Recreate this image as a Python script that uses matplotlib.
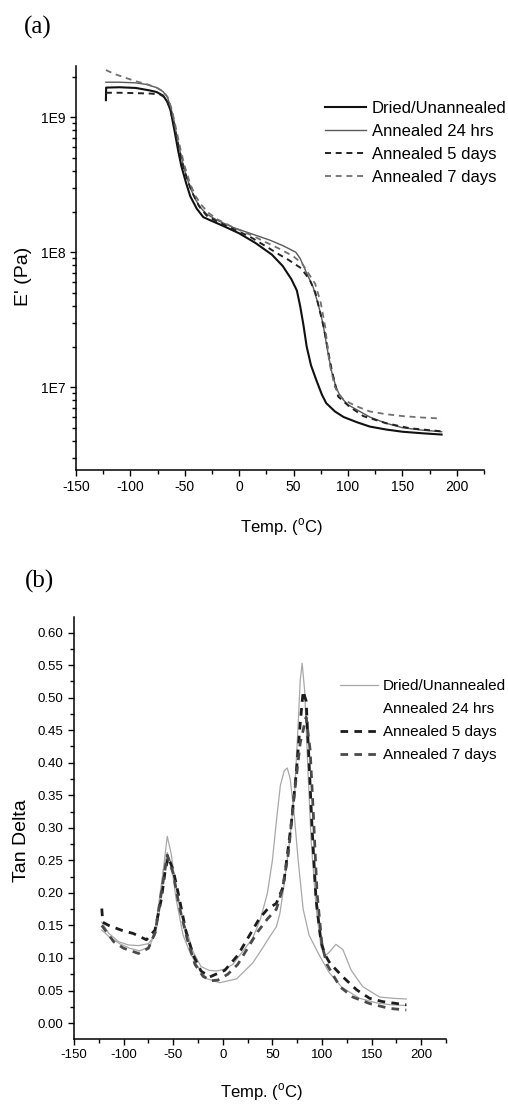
import matplotlib
matplotlib.use("Agg")
import matplotlib.pyplot as plt
from matplotlib.lines import Line2D
from matplotlib.ticker import MultipleLocator, FixedLocator, LogLocator, NullFormatter, FixedFormatter

plt.rcParams.update({
    'font.family': ['Liberation Sans', 'DejaVu Sans'],
    'mathtext.fontset': 'custom',
    'mathtext.rm': 'Liberation Sans',
    'axes.linewidth': 1.1,
    'axes.unicode_minus': False,
    'xtick.direction': 'out',
    'ytick.direction': 'out',
    'lines.scale_dashes': False,
})

# ---- panel (a): storage modulus E' (Pa) vs temperature
T_dried = [-122.5, -122.3, -110, -95, -82, -76, -70, -66, -63, -59, -56, -53, -49, -45, -39, -33, -27, -15, 0, 15,
           30, 40, 48, 53, 56, 59, 62, 66, 71, 76, 80, 88, 96, 108, 120, 135, 150, 168, 186]
E_dried = [1.34e9, 1.66e9, 1.67e9, 1.65e9, 1.58e9, 1.54e9, 1.45e9, 1.3e9, 1.12e9, 7.6e8, 5.6e8, 4.3e8, 3.3e8, 2.6e8,
           2.1e8, 1.82e8, 1.73e8, 1.57e8, 1.38e8, 1.17e8, 9.6e7, 7.9e7, 6.3e7, 5.2e7, 4.0e7, 2.9e7, 2.0e7, 1.45e7,
           1.12e7, 8.8e6, 7.6e6, 6.6e6, 6.0e6, 5.5e6, 5.1e6, 4.85e6, 4.67e6, 4.55e6, 4.45e6]

T_24h = [-122.5, -110, -95, -85, -76, -70, -66, -63, -60, -57, -54, -50, -45, -40, -36, -30, -20, -5, 10, 28,
         40, 52, 56, 62, 68, 73, 77, 81, 85, 89, 93, 100, 108, 120, 135, 150, 168, 186]
E_24h = [1.82e9, 1.82e9, 1.80e9, 1.75e9, 1.66e9, 1.55e9, 1.41e9, 1.2e9, 9.5e8, 7.0e8, 5.4e8, 4.0e8, 3.0e8, 2.45e8,
         2.16e8, 1.92e8, 1.72e8, 1.52e8, 1.38e8, 1.23e8, 1.12e8, 1.0e8, 9.0e7, 7.0e7, 5.5e7, 4.0e7, 2.95e7, 1.9e7,
         1.3e7, 1.0e7, 8.5e6, 7.4e6, 6.8e6, 6.0e6, 5.4e6, 5.0e6, 4.8e6, 4.67e6]

T_5d = [-122.5, -110, -95, -82, -73, -68, -64, -60, -56, -52, -48, -43, -37, -30, -20, -5, 10, 25, 35, 46,
        57, 65, 70, 74, 78, 82, 85, 91, 101, 114, 135, 157, 186]
E_5d = [1.52e9, 1.52e9, 1.51e9, 1.50e9, 1.48e9, 1.40e9, 1.2e9, 8.8e8, 6.2e8, 4.5e8, 3.5e8, 2.75e8, 2.2e8, 1.87e8,
        1.68e8, 1.48e8, 1.3e8, 1.1e8, 9.8e7, 8.7e7, 7.6e7, 6.2e7, 5.0e7, 3.7e7, 2.7e7, 1.8e7, 1.34e7, 8.5e6, 7.2e6,
        6.1e6, 5.4e6, 4.95e6, 4.7e6]

T_7d = [-122.5, -115, -106, -95, -85, -76, -70, -66, -62, -58, -54, -50, -45, -40, -35, -28, -20, -5, 10, 25,
        38, 50, 58, 64, 70, 75, 79, 83, 88, 95, 102, 110, 120, 135, 150, 168, 186]
E_7d = [2.24e9, 2.1e9, 1.98e9, 1.85e9, 1.76e9, 1.66e9, 1.56e9, 1.42e9, 1.15e9, 8.2e8, 5.8e8, 4.3e8, 3.2e8, 2.6e8,
        2.25e8, 1.95e8, 1.75e8, 1.52e8, 1.35e8, 1.18e8, 1.05e8, 9.3e7, 8.2e7, 6.9e7, 5.8e7, 4.2e7, 2.8e7, 1.5e7,
        1.0e7, 8.2e6, 7.6e6, 7.1e6, 6.6e6, 6.3e6, 6.1e6, 5.95e6, 5.85e6]

# ---- panel (b): tan delta vs temperature
t_dried = [-122, -115, -105, -95, -85, -75, -68, -63, -60, -56, -52, -48, -42, -36, -30, -22, -14, -6, 2, 10,
           20, 30, 38, 45, 50, 54, 58, 62, 65, 68, 72, 76, 81, 87, 97, 107, 120, 138, 155, 170, 185]
d_dried = [0.155, 0.138, 0.125, 0.120, 0.119, 0.122, 0.135, 0.18, 0.235, 0.287, 0.26, 0.215, 0.165, 0.14, 0.11,
           0.087, 0.081, 0.080, 0.083, 0.09, 0.11, 0.13, 0.16, 0.20, 0.25, 0.31, 0.365, 0.388, 0.392, 0.375, 0.32,
           0.25, 0.175, 0.135, 0.105, 0.078, 0.055, 0.038, 0.031, 0.028, 0.027]

t_24h = [-122, -115, -104, -94, -84, -74, -68.5, -64, -60, -56, -52, -47, -40, -33, -26.5, -16, -3, 14, 30, 40,
         47, 54, 57.5, 61, 67.5, 72.5, 76, 78, 80, 82.5, 86, 89, 94, 99, 103, 108, 114, 121, 129.5, 141, 158, 172, 185]
d_24h = [0.143, 0.133, 0.122, 0.115, 0.111, 0.117, 0.138, 0.19, 0.235, 0.262, 0.245, 0.19, 0.135, 0.108, 0.090,
         0.068, 0.062, 0.068, 0.092, 0.115, 0.132, 0.148, 0.168, 0.204, 0.281, 0.357, 0.46, 0.526, 0.553, 0.511,
         0.383, 0.281, 0.178, 0.117, 0.103, 0.11, 0.121, 0.113, 0.081, 0.056, 0.040, 0.038, 0.037]

t_5d = [-122, -121, -115, -102, -90, -77, -68.5, -62, -58, -55, -50, -45, -37, -30, -22, -13, 2, 15, 27, 37,
        45, 54, 61, 69, 74, 78, 81, 84, 87, 90, 94, 99, 103, 108, 121, 135, 148, 161, 185]
d_5d = [0.176, 0.155, 0.150, 0.1426, 0.1375, 0.128, 0.1426, 0.19, 0.235, 0.255, 0.235, 0.2, 0.14, 0.105, 0.08,
        0.071, 0.081, 0.104, 0.135, 0.161, 0.175, 0.184, 0.21, 0.306, 0.383, 0.46, 0.51, 0.495, 0.40, 0.30, 0.19,
        0.125, 0.105, 0.092, 0.071, 0.051, 0.038, 0.033, 0.028]

t_7d = [-122, -110, -100, -85, -75, -68, -62, -56, -50, -44, -36, -28, -20, -12, -5, 5, 15, 25, 35, 45,
        54, 60, 66, 72, 78, 84, 88, 91, 95, 100, 105, 118, 131, 148, 168, 185]
d_7d = [0.15, 0.125, 0.115, 0.107, 0.115, 0.14, 0.2, 0.258, 0.23, 0.18, 0.13, 0.09, 0.072, 0.065, 0.066, 0.075,
        0.09, 0.115, 0.14, 0.16, 0.175, 0.205, 0.26, 0.35, 0.43, 0.47, 0.42, 0.33, 0.2, 0.12, 0.09, 0.056, 0.040,
        0.030, 0.0225, 0.020]

labels = ['Dried/Unannealed', 'Annealed 24 hrs', 'Annealed 5 days', 'Annealed 7 days']
xticks = [-150, -100, -50, 0, 50, 100, 150, 200]

fig = plt.figure(figsize=(5.08, 11.06), dpi=100)
W, H = 508, 1106
ax1 = fig.add_axes([76 / W, 1 - 470 / H, 408 / W, 404 / H])
ax2 = fig.add_axes([74 / W, 1 - 1039 / H, 372 / W, 422 / H])

# panel (a)
ax1.plot(T_dried, E_dried, color='#111111', lw=1.5, label=labels[0])
ax1.plot(T_24h, E_24h, color='#5a5a5a', lw=1.0, label=labels[1])
ax1.plot(T_5d, E_5d, color='#222222', lw=1.4, dashes=(4.3, 3.4), label=labels[2])
ax1.plot(T_7d, E_7d, color='#707070', lw=1.3, dashes=(4.3, 3.4), label=labels[3])
ax1.set_yscale('log')
ax1.set_xlim(-150, 225)
ax1.set_ylim(2.43e6, 2.4e9)
ax1.yaxis.set_major_locator(FixedLocator([1e7, 1e8, 1e9]))
ax1.yaxis.set_major_formatter(FixedFormatter(['1E7', '1E8', '1E9']))
ax1.yaxis.set_minor_locator(LogLocator(base=10, subs=range(2, 10)))
ax1.yaxis.set_minor_formatter(NullFormatter())
ax1.set_ylabel("E' (Pa)", fontsize=14)
ax1.yaxis.set_label_coords(-0.108, 0.48)
ax1.legend(loc='upper left', bbox_to_anchor=(325 / W, 1 - 101 / H), bbox_transform=fig.transFigure,
           frameon=False, fontsize=12, handlelength=2.45, handletextpad=0.36, labelspacing=0.48,
           borderpad=0, borderaxespad=0)

# panel (b)
ax2.plot(t_dried, d_dried, color='#a8a8a8', lw=0.9)
ax2.plot(t_24h, d_24h, color='#a8a8a8', lw=0.9)
ax2.plot(t_5d, d_5d, color='#1c1c1c', lw=2.0, dashes=(5.5, 4.5))
ax2.plot(t_7d, d_7d, color='#4a4a4a', lw=2.0, dashes=(5.5, 4.5))
ax2.set_xlim(-150, 225)
ax2.set_ylim(-0.0245, 0.624)
ax2.yaxis.set_major_locator(FixedLocator([i * 0.05 for i in range(13)]))
ax2.yaxis.set_major_formatter(FixedFormatter(['%.2f' % (i * 0.05) for i in range(13)]))
ax2.yaxis.set_minor_locator(MultipleLocator(0.025))
ax2.set_ylabel('Tan Delta', fontsize=14)
ax2.yaxis.set_label_coords(-0.118, 0.47)
handles = [Line2D([], [], color='#a8a8a8', lw=0.9),
           Line2D([], [], color='none', lw=0.9),
           Line2D([], [], color='#1c1c1c', lw=2.0, dashes=(5.5, 4.5)),
           Line2D([], [], color='#4a4a4a', lw=2.0, dashes=(5.5, 4.5))]
ax2.legend(handles, labels, loc='upper left', bbox_to_anchor=(340 / W, 1 - 679 / H),
           bbox_transform=fig.transFigure, frameon=False, fontsize=11, handlelength=2.5,
           handletextpad=0.3, labelspacing=0.6, borderpad=0, borderaxespad=0)

for ax, fs, ly in ((ax1, 10, -0.115), (ax2, 9.5, -0.1)):
    ax.spines['top'].set_visible(False)
    ax.spines['right'].set_visible(False)
    ax.set_xticks(xticks)
    ax.xaxis.set_minor_locator(MultipleLocator(25))
    ax.tick_params(which='major', length=4.5, width=1.0, labelsize=fs, pad=3)
    ax.tick_params(which='minor', length=3, width=1.0)
    ax.set_xlabel(r'Temp. ($^{\mathrm{o}}$C)', fontsize=12)
    ax.xaxis.set_label_coords(0.503, ly)
    ax.xaxis.label.set_va('top')

fig.text(38 / W, 1 - 27 / H, '(a)', family='Liberation Serif', fontsize=18, ha='center', va='center')
fig.text(40 / W, 1 - 581 / H, '(b)', family='Liberation Serif', fontsize=18, ha='center', va='center')

fig.savefig('out.png', dpi=100)
